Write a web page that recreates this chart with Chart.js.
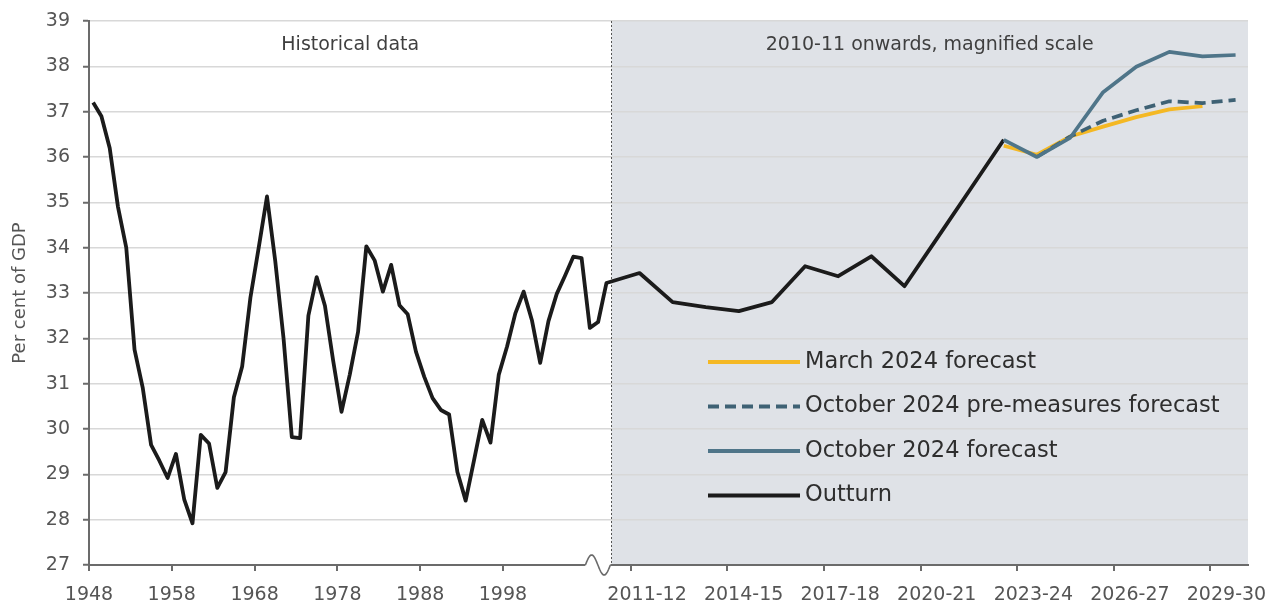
<!DOCTYPE html>
<html>
<head>
<meta charset="utf-8">
<script src="https://cdn.jsdelivr.net/npm/chart.js@4/dist/chart.umd.min.js"></script>
<style>
html,body{margin:0;padding:0;background:#ffffff;}
#wrap{width:1277px;height:603px;}
</style>
</head>
<body>
<div id="wrap"><canvas id="c" width="1277" height="603"></canvas></div>
<script>
// ---------- DATA ----------
const histYears = [1948,1949,1950,1951,1952,1953,1954,1955,1956,1957,
  1958,1959,1960,1961,1962,1963,1964,1965,1966,1967,
  1968,1969,1970,1971,1972,1973,1974,1975,1976,1977,
  1978,1979,1980,1981,1982,1983,1984,1985,1986,1987,
  1988,1989,1990,1991,1992,1993,1994,1995,1996,1997,
  1998,1999,2000,2001,2002,2003,2004,2005,2006,2007,2008,2009];
const histOutturn = [37.2,36.9,36.2,34.9,34.0,31.75,30.9,29.65,29.3,28.92,
  29.45,28.45,27.92,29.87,29.68,28.7,29.05,30.7,31.38,32.9,
  34.0,35.13,33.7,32.0,29.82,29.8,32.5,33.35,32.72,31.5,
  30.38,31.2,32.14,34.03,33.72,33.03,33.62,32.73,32.53,31.7,
  31.15,30.68,30.42,30.32,29.05,28.42,29.3,30.2,29.7,31.2,
  31.82,32.55,33.03,32.4,31.46,32.38,32.98,33.38,33.8,33.77,32.23,32.36];

const fiscalYears = ['2010-11','2011-12','2012-13','2013-14','2014-15','2015-16','2016-17',
  '2017-18','2018-19','2019-20','2020-21','2021-22','2022-23','2023-24','2024-25',
  '2025-26','2026-27','2027-28','2028-29','2029-30'];

const outturnYears = ['2010-11','2011-12','2012-13','2013-14','2014-15','2015-16','2016-17',
  '2017-18','2018-19','2019-20','2020-21','2021-22','2022-23'];
const outturnValues = [33.22,33.44,32.80,32.69,32.60,32.80,33.59,33.37,33.81,33.15,34.22,35.30,36.38];

const march2024Years = ['2022-23','2023-24','2024-25','2025-26','2026-27','2027-28','2028-29'];
const march2024Values = [36.25,36.05,36.45,36.67,36.88,37.05,37.12];

const octPreYears = ['2023-24','2024-25','2025-26','2026-27','2027-28','2028-29','2029-30'];
const octPreValues = [36.0,36.45,36.8,37.03,37.23,37.19,37.26];

const oct2024Years = ['2022-23','2023-24','2024-25','2025-26','2026-27','2027-28','2028-29','2029-30'];
const oct2024Values = [36.38,36.0,36.42,37.43,37.99,38.32,38.22,38.25];

const leftTickLabels = ['1948','1958','1968','1978','1988','1998'];
const rightTickLabels = ['2011-12','2014-15','2017-18','2020-21','2023-24','2026-27','2029-30'];

const yTickValues = [27,28,29,30,31,32,33,34,35,36,37,38,39];

const panelTitles = ['Historical data', '2010-11 onwards, magnified scale'];
const yTitle = 'Per cent of GDP';

// ---------- LAYOUT (x-axis mapping: one unit per historical year, magnified x4 after 2010-11) ----------
const MAG = 4;
const FISCAL_START = 62;
const histX = y => y - histYears[0];
const fiscX = f => FISCAL_START + MAG * fiscalYears.indexOf(f);
const X_MIN = -0.5, X_MAX = 139.5;
const DIVIDER = 62.6;
const RIGHT_TICK_START = 64.96, RIGHT_TICK_STEP = 11.665, RIGHT_LABEL_SHIFT = 1.95;

const leftTickPos = leftTickLabels.map((_, i) => -0.5 + 10 * i);
const rightTickPos = rightTickLabels.map((_, i) => RIGHT_TICK_START + RIGHT_TICK_STEP * i);
const xLabelPos = leftTickPos.concat(rightTickPos.map(v => v + RIGHT_LABEL_SHIFT));
const xLabelText = leftTickLabels.concat(rightTickLabels);
const xTickPos = leftTickPos.concat(rightTickPos);

const FONT = 'DejaVu Sans';

const outturnData = histYears.map((y, i) => ({x: histX(y), y: histOutturn[i]}))
  .concat(outturnYears.map((f, i) => ({x: fiscX(f), y: outturnValues[i]})));
const mkFiscal = (yrs, vals) => yrs.map((f, i) => ({x: fiscX(f), y: vals[i]}));

const legendOrder = ['March 2024 forecast', 'October 2024 pre-measures forecast', 'October 2024 forecast', 'Outturn'];

const zeroPad = s => { s.paddingLeft = 0; s.paddingRight = 0; s.paddingTop = 0; s.paddingBottom = 0; };

const decor = {
  id: 'decor',
  beforeDraw(chart) {
    const {ctx, chartArea: a, scales: {x}} = chart;
    const xd = x.getPixelForValue(DIVIDER);
    ctx.save();
    ctx.fillStyle = '#dfe2e7';
    ctx.fillRect(xd, a.top, a.right - xd, a.bottom - a.top);
    ctx.restore();
  },
  beforeDatasetsDraw(chart) {
    const {ctx, chartArea: a, scales: {x}} = chart;
    const xd = Math.round(x.getPixelForValue(DIVIDER)) + 0.5;
    ctx.save();
    ctx.strokeStyle = '#555';
    ctx.lineWidth = 1;
    ctx.setLineDash([2, 2]);
    ctx.beginPath();
    ctx.moveTo(xd, a.top);
    ctx.lineTo(xd, a.bottom);
    ctx.stroke();
    ctx.setLineDash([]);
    ctx.fillStyle = '#3f3f3f';
    ctx.font = '19px "' + FONT + '"';
    ctx.textAlign = 'center';
    ctx.textBaseline = 'middle';
    ctx.fillText(panelTitles[0], (a.left + xd) / 2, a.top + 24);
    ctx.fillText(panelTitles[1], (xd + a.right) / 2, a.top + 24);
    ctx.restore();
  },
  afterDraw(chart) {
    const {ctx, chartArea: a, scales: {x}} = chart;
    const xd = x.getPixelForValue(DIVIDER);
    // axis break symbol
    ctx.save();
    const x0 = xd - 26, w = 25, yb = a.bottom;
    ctx.fillStyle = '#ffffff';
    ctx.fillRect(x0, yb - 3, w, 7);
    ctx.strokeStyle = '#6b6b6b';
    ctx.lineWidth = 1.6;
    ctx.beginPath();
    for (let i = 0; i <= 40; i++) {
      const t = i / 40;
      const px = x0 + w * t;
      const py = yb - 10 * Math.sin(2 * Math.PI * t);
      if (i === 0) ctx.moveTo(px, py); else ctx.lineTo(px, py);
    }
    ctx.stroke();
    ctx.restore();
    // legend
    ctx.save();
    const lx0 = 708, lx1 = 800, tx = 805, ry0 = 362, rstep = 44.5;
    ctx.font = '22.5px "' + FONT + '"';
    ctx.textBaseline = 'middle';
    ctx.textAlign = 'left';
    legendOrder.forEach((lab, i) => {
      const ds = chart.data.datasets.find(d => d.label === lab);
      const yy = ry0 + rstep * i;
      ctx.strokeStyle = ds.borderColor;
      ctx.lineWidth = 4;
      ctx.setLineDash(ds.borderDash || []);
      ctx.beginPath();
      ctx.moveTo(lx0, yy);
      ctx.lineTo(lx1, yy);
      ctx.stroke();
      ctx.setLineDash([]);
      ctx.fillStyle = '#2e2e2e';
      ctx.fillText(lab, tx, yy);
    });
    ctx.restore();
  }
};

const common = {pointRadius: 0, pointHoverRadius: 0, tension: 0, fill: false,
  borderJoinStyle: 'round', borderCapStyle: 'butt', xAxisID: 'x', yAxisID: 'y'};

new Chart(document.getElementById('c'), {
  type: 'line',
  data: {
    datasets: [
      Object.assign({label: 'October 2024 forecast', data: mkFiscal(oct2024Years, oct2024Values),
        borderColor: '#4f7589', borderWidth: 3.7, order: 0}, common),
      Object.assign({label: 'October 2024 pre-measures forecast', data: mkFiscal(octPreYears, octPreValues),
        borderColor: '#3e6174', borderWidth: 3.7, borderDash: [11, 6], order: 1}, common),
      Object.assign({label: 'March 2024 forecast', data: mkFiscal(march2024Years, march2024Values),
        borderColor: '#f4b824', borderWidth: 3.7, order: 2}, common),
      Object.assign({label: 'Outturn', data: outturnData,
        borderColor: '#1b1b1b', borderWidth: 3.8, order: 3}, common)
    ]
  },
  options: {
    responsive: false,
    animation: false,
    devicePixelRatio: 1,
    layout: {padding: {left: 0, top: 21, right: 29, bottom: 0}},
    plugins: {legend: {display: false}, tooltip: {enabled: false}},
    scales: {
      x: {
        type: 'linear', position: 'bottom', min: X_MIN, max: X_MAX,
        grid: {display: false, drawTicks: false},
        border: {display: true, color: '#6b6b6b', width: 2},
        ticks: {autoSkip: false, maxRotation: 0, minRotation: 0, color: '#555',
          font: {family: FONT, size: 19}, padding: 19,
          callback: (v, i) => xLabelText[i]},
        afterBuildTicks(s) { s.ticks = xLabelPos.map(v => ({value: v})); },
        afterFit(s) { s.height = 38; zeroPad(s); }
      },
      xt: {
        type: 'linear', position: {y: 27}, min: X_MIN, max: X_MAX,
        grid: {drawOnChartArea: false, drawTicks: true, tickLength: 6, color: '#6b6b6b', lineWidth: 2},
        border: {display: false},
        ticks: {display: false},
        afterBuildTicks(s) { s.ticks = xTickPos.map(v => ({value: v})); },
        afterFit(s) { zeroPad(s); }
      },
      y: {
        min: 27, max: 39,
        afterBuildTicks(s) { s.ticks = yTickValues.map(v => ({value: v})); },
        ticks: {color: '#555', font: {family: FONT, size: 19}, padding: 13},
        grid: {color: '#d8d8d8', lineWidth: 1.5, tickColor: '#6b6b6b', tickLength: 6, tickWidth: 2},
        border: {color: '#6b6b6b', width: 2},
        title: {display: true, text: yTitle, color: '#555', font: {family: FONT, size: 18},
          padding: {top: 10, bottom: 0}},
        afterFit(s) { s.width = 89; zeroPad(s); }
      }
    }
  },
  plugins: [decor]
});
</script>
</body>
</html>
